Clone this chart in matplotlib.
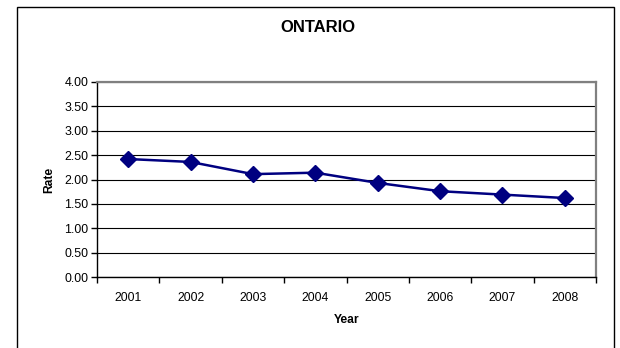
import matplotlib
matplotlib.use("Agg")
from matplotlib import pyplot as plt
from matplotlib.patches import Rectangle

years = ["2001", "2002", "2003", "2004", "2005", "2006", "2007", "2008"]
rate = [2.42, 2.36, 2.11, 2.14, 1.93, 1.76, 1.69, 1.62]
y_ticks = [0.0, 0.5, 1.0, 1.5, 2.0, 2.5, 3.0, 3.5, 4.0]

plt.rcParams["font.family"] = ["Liberation Sans", "DejaVu Sans"]

fig = plt.figure(figsize=(6.2, 3.48), dpi=100)
fig.patch.set_facecolor("white")

# chart area border, runs past the bottom edge
fig.patches.append(Rectangle((17 / 620, -0.2), 597 / 620, 1.2 - 6.5 / 348,
                             transform=fig.transFigure, fill=False,
                             edgecolor="black", linewidth=1.0, zorder=0))

ax = fig.add_axes([97 / 620, 71 / 348, 499 / 620, 195 / 348])
x = list(range(1, len(years) + 1))
ax.plot(x, rate, color="#000080", linewidth=1.8, marker="D",
        markersize=8.5, markerfacecolor="#000080", markeredgecolor="#000080",
        zorder=3, clip_on=False)

ax.set_xlim(0.5, len(years) + 0.5)
ax.set_ylim(0, 4)
ax.set_yticks(y_ticks)
ax.set_yticklabels([f"{v:.2f}" for v in y_ticks], fontsize=8.9)

# ticks sit on category boundaries, labels in the middle
ax.set_xticks([i + 0.5 for i in range(len(years) + 1)])
ax.set_xticklabels([])
ax.set_xticks(x, minor=True)
ax.set_xticklabels(years, minor=True, fontsize=8.7)
ax.tick_params(axis="x", which="minor", length=0, pad=11)
ax.tick_params(axis="x", which="major", length=4, width=1, direction="out")
ax.tick_params(axis="y", length=4, width=1, direction="out", pad=2)

ax.grid(axis="y", color="black", linewidth=0.8)
ax.set_axisbelow(True)

for side in ("top", "right"):
    ax.spines[side].set_color("#808080")
    ax.spines[side].set_linewidth(1.6)
for side in ("left", "bottom"):
    ax.spines[side].set_color("black")
    ax.spines[side].set_linewidth(1.0)

ax.set_xlabel("Year", fontsize=8.7, fontweight="bold", labelpad=7)
ax.set_ylabel("Rate", fontsize=8.7, fontweight="bold", labelpad=7)

fig.text(318 / 620, 1 - 28 / 348, "ONTARIO", ha="center", va="center",
         fontsize=12, fontweight="bold")

fig.savefig("out.png", dpi=100)
